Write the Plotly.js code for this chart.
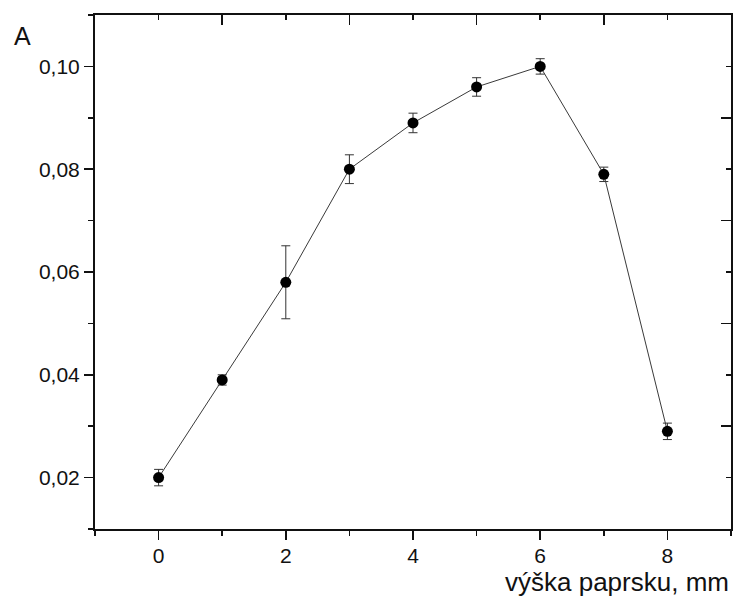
<!DOCTYPE html>
<html>
<head>
<meta charset="utf-8">
<script src="https://cdn.plot.ly/plotly-3.0.1.min.js"></script>
<style>html,body{margin:0;padding:0;background:#fff;}#chart{width:733px;height:597px;}</style>
</head>
<body>
<div id="chart"></div>
<script>
var heights = [0, 1, 2, 3, 4, 5, 6, 7, 8];
var absorbance = [0.020, 0.039, 0.058, 0.080, 0.089, 0.096, 0.100, 0.079, 0.029];
var absError = [0.0016, 0.0010, 0.0071, 0.0028, 0.0019, 0.0018, 0.0015, 0.0014, 0.0016];
var xTitle = 'výška paprsku, mm';
var yLabel = 'A';

var FONT = 'Liberation Sans, Arial, sans-serif';

var main = {
  x: heights, y: absorbance, type: 'scatter', mode: 'lines+markers',
  line: {color: '#3a3a3a', width: 1},
  marker: {color: '#000', size: 11},
  error_y: {type: 'data', array: absError, visible: true, color: '#333', thickness: 1, width: 4.5},
  hoverinfo: 'skip', showlegend: false, xaxis: 'x', yaxis: 'y'
};
var ghost = {
  x: heights, y: absorbance, type: 'scatter', mode: 'markers',
  marker: {opacity: 0, size: 1}, hoverinfo: 'skip', showlegend: false,
  xaxis: 'x2', yaxis: 'y2'
};

var layout = {
  width: 733, height: 597,
  margin: {l: 95, r: 2, t: 15, b: 68},
  paper_bgcolor: '#fff', plot_bgcolor: '#fff',
  separators: ',.',
  font: {family: FONT, color: '#111', size: 21},
  xaxis: {
    range: [-1, 9], tick0: 0, dtick: 2, ticks: 'outside', ticklen: 9, tickwidth: 1.5, tickcolor: '#111',
    minor: {dtick: 1, tick0: 1, ticks: 'outside', ticklen: 5, tickwidth: 1.5, tickcolor: '#111'},
    showline: true, linecolor: '#111', linewidth: 2, showgrid: false, zeroline: false,
    tickfont: {family: FONT, size: 21, color: '#111'}, ticklabelstandoff: -2, fixedrange: true
  },
  yaxis: {
    range: [0.01, 0.11], tick0: 0, dtick: 0.02, tickformat: '.2f', ticks: 'outside', ticklen: 9, tickwidth: 1.5, tickcolor: '#111',
    minor: {dtick: 0.01, tick0: 0.01, ticks: 'outside', ticklen: 5, tickwidth: 1.5, tickcolor: '#111'},
    showline: true, linecolor: '#111', linewidth: 2, showgrid: false, zeroline: false,
    tickfont: {family: FONT, size: 21, color: '#111'}, fixedrange: true
  },
  xaxis2: {
    overlaying: 'x', side: 'top', anchor: 'y2',
    range: [-1, 9], tick0: 1, dtick: 2, ticks: 'inside', ticklen: 10, tickwidth: 1.5, tickcolor: '#111',
    minor: {dtick: 1, tick0: 0, ticks: 'inside', ticklen: 5, tickwidth: 1.5, tickcolor: '#111'},
    showline: true, linecolor: '#111', linewidth: 2, showgrid: false, zeroline: false, showticklabels: false
  },
  yaxis2: {
    overlaying: 'y', side: 'right', anchor: 'x2',
    range: [0.01, 0.11], tick0: 0.01, dtick: 0.02, ticks: 'inside', ticklen: 10, tickwidth: 1.5, tickcolor: '#111',
    minor: {dtick: 0.01, tick0: 0, ticks: 'inside', ticklen: 5, tickwidth: 1.5, tickcolor: '#111'},
    showline: true, linecolor: '#111', linewidth: 2, showgrid: false, zeroline: false, showticklabels: false
  },
  annotations: [
    {text: yLabel, xref: 'paper', yref: 'paper', x: -0.1305, y: 0.959, xanchor: 'left', yanchor: 'middle',
     showarrow: false, font: {family: FONT, size: 25, color: '#111'}},
    {text: xTitle, xref: 'paper', yref: 'paper', x: 1, y: -0.104, xanchor: 'right', yanchor: 'middle',
     showarrow: false, font: {family: FONT, size: 26, color: '#111'}}
  ],
  showlegend: false
};

Plotly.newPlot('chart', [main, ghost], layout, {staticPlot: true, displayModeBar: false});
</script>
</body>
</html>
